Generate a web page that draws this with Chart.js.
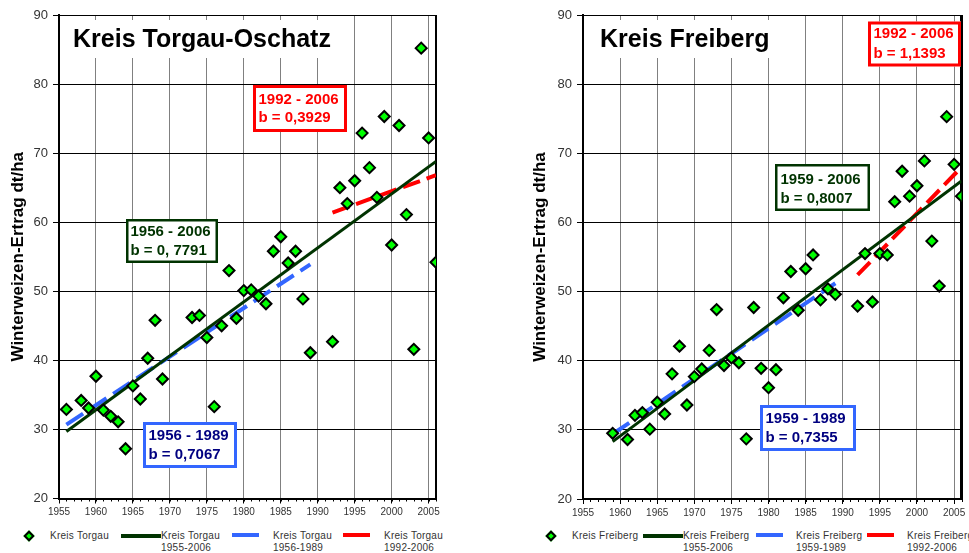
<!DOCTYPE html>
<html lang="de">
<head>
<meta charset="UTF-8">
<script src="https://cdn.jsdelivr.net/npm/chart.js"></script>
<title>Winterweizen-Ertrag</title>
<style>
  body { margin: 0; background: #fff; width: 969px; height: 553px; overflow: hidden; position: relative;
         font-family: "Liberation Sans", Arial, sans-serif; }
  .box { position: absolute; top: 0; height: 530px; }
  .lg { position: absolute; font-size: 10px; line-height: 12px; color: #333; white-space: nowrap; letter-spacing: 0.25px; }
  .ln { position: absolute; height: 4px; }
  .dm { position: absolute; width: 4px; height: 4px; border: 2px solid #000; background: #00ff00; transform: rotate(45deg); }
</style>
</head>
<body>

<div class="box" style="left:0; width:480px;"><canvas id="torgau"></canvas></div>
<div class="box" style="left:490px; width:479px;"><canvas id="freiberg"></canvas></div>

<!-- Legende links -->
<div class="dm" style="left:25px; top:532px;"></div>
<div class="lg" style="left:50px; top:530px;">Kreis Torgau</div>
<div class="ln" style="left:121px; top:534px; width:40px; background:#003300;"></div>
<div class="lg" style="left:161px; top:530px;">Kreis Torgau<br>1955-2006</div>
<div class="ln" style="left:232px; top:533px; width:27px; background:#3366ff;"></div>
<div class="lg" style="left:273px; top:530px;">Kreis Torgau<br>1956-1989</div>
<div class="ln" style="left:343px; top:533px; width:27px; background:#ff0000;"></div>
<div class="lg" style="left:384px; top:530px;">Kreis Torgau<br>1992-2006</div>

<!-- Legende rechts -->
<div class="dm" style="left:547px; top:532px;"></div>
<div class="lg" style="left:572px; top:530px;">Kreis Freiberg</div>
<div class="ln" style="left:643px; top:534px; width:40px; background:#003300;"></div>
<div class="lg" style="left:683px; top:530px;">Kreis Freiberg<br>1955-2006</div>
<div class="ln" style="left:756px; top:533px; width:27px; background:#3366ff;"></div>
<div class="lg" style="left:796px; top:530px;">Kreis Freiberg<br>1959-1989</div>
<div class="ln" style="left:867px; top:533px; width:27px; background:#ff0000;"></div>
<div class="lg" style="left:907px; top:530px;">Kreis Freiberg<br>1992-2006</div>

<script>
    // Kreis Torgau-Oschatz: Jahre und Ertrag (dt/ha)
    var torgauYears = [1956, 1958, 1959, 1960, 1961, 1962, 1963, 1964, 1965, 1966, 1967, 1968, 1969,
        1973, 1974, 1975, 1976, 1977, 1978, 1979, 1980, 1981, 1982, 1983, 1984, 1985, 1986, 1987, 1988, 1989,
        1992, 1993, 1994, 1995, 1996, 1997, 1998, 1999, 2000, 2001, 2002, 2003, 2004, 2005, 2006];
    var torgauYield = [32.9, 34.2, 33.1, 37.7, 32.8, 31.9, 31.1, 27.2, 36.3, 34.4, 40.3, 45.8, 37.3,
        46.2, 46.5, 43.3, 33.3, 45.0, 53.0, 46.1, 50.1, 50.2, 49.3, 48.2, 55.8, 57.9, 54.1, 55.8, 48.9, 41.1,
        42.7, 65.0, 62.7, 66.0, 72.9, 67.9, 63.6, 75.3, 56.7, 74.0, 61.1, 41.6, 85.2, 72.2, 54.2];
    // Trendlinien Torgau (Anfang, Ende)
    var torgauTrendAllX = [1956, 2006], torgauTrendAllY = [29.7, 68.8];
    var torgauTrendOldX = [1956, 1989], torgauTrendOldY = [30.7, 53.9];
    var torgauTrendNewX = [1992, 2006], torgauTrendNewY = [61.4, 66.8];

    // Kreis Freiberg
    var freibergYears = [1959, 1961, 1962, 1963, 1964, 1965, 1966, 1967, 1968, 1969, 1970, 1971, 1972,
        1973, 1974, 1975, 1976, 1977, 1978, 1979, 1980, 1981, 1982, 1983, 1984, 1985, 1986, 1987, 1988, 1989,
        1992, 1993, 1994, 1995, 1996, 1997, 1998, 1999, 2000, 2001, 2002, 2003, 2004, 2005, 2006];
    var freibergYield = [29.5, 28.6, 32.1, 32.5, 30.1, 34.0, 32.3, 38.1, 42.1, 33.6, 37.7, 38.8, 41.5,
        47.4, 39.3, 40.4, 39.7, 28.7, 47.7, 38.9, 36.1, 38.7, 49.1, 52.9, 47.3, 53.3, 55.3, 48.8, 50.4, 49.6,
        47.9, 55.5, 48.5, 55.5, 55.3, 63.0, 67.4, 63.8, 65.3, 68.9, 57.3, 50.8, 75.3, 68.4, 63.8];
    var freibergTrendAllX = [1959, 2006], freibergTrendAllY = [28.3, 66.0];
    var freibergTrendOldX = [1959, 1989], freibergTrendOldY = [29.4, 51.2];
    var freibergTrendNewX = [1992, 2006], freibergTrendNewY = [52.4, 68.0];

    var yTicks = [20, 30, 40, 50, 60, 70, 80, 90];
    var xTicks = [1955, 1960, 1965, 1970, 1975, 1980, 1985, 1990, 1995, 2000, 2005];

    var FONT = '"Liberation Sans", Arial, sans-serif';

    function pts(xs, ys) {
        return xs.map(function (x, i) { return {x: x, y: ys[i]}; });
    }

    // Rahmen, Jahres-Teilstriche und Textkästen
    var extras = {
        id: 'extras',
        beforeDatasetsDraw: function (chart, args, opts) {
            var ctx = chart.ctx, a = chart.chartArea, x = chart.scales.x;
            ctx.save();
            ctx.strokeStyle = '#000';
            ctx.lineWidth = 1;
            for (var yr = Math.ceil(x.min); yr <= x.max; yr++) {
                var px = Math.round(x.getPixelForValue(yr)) + 0.5;
                ctx.beginPath();
                ctx.moveTo(px, a.bottom);
                ctx.lineTo(px, a.bottom + 3);
                ctx.stroke();
            }
            ctx.lineWidth = opts.rightWidth;
            ctx.beginPath();
            ctx.moveTo(a.right, a.top);
            ctx.lineTo(a.right, a.bottom + 1);
            ctx.stroke();

            opts.boxes.forEach(function (b) {
                ctx.fillStyle = '#fff';
                ctx.fillRect(b.x, b.y, b.w, b.h);
                if (b.border) {
                    ctx.strokeStyle = b.border;
                    ctx.lineWidth = b.bw;
                    ctx.strokeRect(b.x + b.bw / 2, b.y + b.bw / 2, b.w - b.bw, b.h - b.bw);
                }
                ctx.fillStyle = b.color;
                ctx.font = b.font;
                ctx.textBaseline = 'middle';
                ctx.textAlign = 'left';
                b.lines.forEach(function (t, i) {
                    ctx.fillText(t, b.tx, b.ty[i]);
                });
            });
            ctx.restore();
        }
    };

    function drawChart(id, d) {
        var ctx = document.getElementById(id).getContext('2d');
        return new Chart(ctx, {
            type: 'scatter',
            data: {
                datasets: [{
                    label: d.name,
                    data: pts(d.years, d.values),
                    pointStyle: 'rectRot',
                    pointRadius: 5.5,
                    pointHoverRadius: 5.5,
                    backgroundColor: '#00ff00',
                    borderColor: '#000',
                    borderWidth: 2,
                    order: 0
                }, {
                    label: d.name + ' 1955-2006',
                    data: pts(d.allX, d.allY),
                    showLine: true,
                    pointRadius: 0,
                    borderColor: '#003300',
                    borderWidth: 3,
                    order: 1
                }, {
                    label: d.name + ' ' + d.oldLabel,
                    data: pts(d.oldX, d.oldY),
                    showLine: true,
                    pointRadius: 0,
                    borderColor: '#3366ff',
                    borderWidth: 4,
                    borderDash: [20, 8],
                    order: 2
                }, {
                    label: d.name + ' 1992-2006',
                    data: pts(d.newX, d.newY),
                    showLine: true,
                    pointRadius: 0,
                    borderColor: '#ff0000',
                    borderWidth: 4,
                    borderDash: [18, 7],
                    order: 1
                }]
            },
            options: {
                responsive: true,
                maintainAspectRatio: false,
                animation: false,
                events: [],
                layout: {padding: d.padding},
                plugins: {
                    legend: {display: false},
                    tooltip: {enabled: false},
                    extras: {rightWidth: d.rightWidth, boxes: d.boxes}
                },
                scales: {
                    x: {
                        type: 'linear',
                        min: 1955,
                        max: 2006,
                        afterBuildTicks: function (axis) {
                            axis.ticks = xTicks.map(function (v) { return {value: v}; });
                        },
                        afterFit: function (axis) { axis.height = d.xHeight; },
                        ticks: {
                            maxRotation: 0,
                            autoSkip: false,
                            padding: 3,
                            color: '#333',
                            font: {family: FONT, size: 10},
                            callback: function (v) { return String(v); }
                        },
                        grid: {color: '#808080', lineWidth: 1, tickLength: 5, tickColor: '#000'},
                        border: {color: '#000', width: 2}
                    },
                    y: {
                        min: 20,
                        max: 90,
                        afterBuildTicks: function (axis) {
                            axis.ticks = yTicks.map(function (v) { return {value: v}; });
                        },
                        afterFit: function (axis) { axis.width = d.yWidth; },
                        ticks: {
                            padding: 5,
                            color: '#333',
                            font: {family: FONT, size: 13}
                        },
                        grid: {color: '#000', lineWidth: 1, tickLength: 6, tickColor: '#000'},
                        border: {color: '#000', width: 2},
                        title: {
                            display: true,
                            text: 'Winterweizen-Ertrag dt/ha',
                            color: '#000',
                            padding: {top: 8, bottom: 0},
                            font: {family: FONT, size: 17, weight: 'bold'}
                        }
                    }
                }
            },
            plugins: [extras]
        });
    }

    var boldFont = 'bold 15px ' + FONT;
    var titleFont = 'bold 25px ' + FONT;

    drawChart('torgau', {
        name: 'Kreis Torgau',
        years: torgauYears, values: torgauYield,
        allX: torgauTrendAllX, allY: torgauTrendAllY,
        oldX: torgauTrendOldX, oldY: torgauTrendOldY, oldLabel: '1956-1989',
        newX: torgauTrendNewX, newY: torgauTrendNewY,
        padding: {left: 0, top: 15, right: 44, bottom: 0},
        yWidth: 59, xHeight: 31.5, rightWidth: 2,
        boxes: [
            {x: 65, y: 20, w: 276, h: 38, color: '#000', font: titleFont, lines: ['Kreis Torgau-Oschatz'], tx: 73, ty: [40]},
            {x: 253, y: 85, w: 94, h: 47, border: '#ff0000', bw: 3, color: '#ff0000', font: boldFont,
                lines: ['1992 - 2006', 'b = 0,3929'], tx: 258.5, ty: [100, 118]},
            {x: 126, y: 219, w: 92, h: 44, border: '#003300', bw: 2.5, color: '#003300', font: boldFont,
                lines: ['1956 - 2006', 'b = 0, 7791'], tx: 130.5, ty: [232, 251]},
            {x: 143, y: 422, w: 94, h: 46, border: '#3366ff', bw: 3, color: '#000080', font: boldFont,
                lines: ['1956 - 1989', 'b = 0,7067'], tx: 148.5, ty: [436, 455]}
        ]
    });

    drawChart('freiberg', {
        name: 'Kreis Freiberg',
        years: freibergYears, values: freibergYield,
        allX: freibergTrendAllX, allY: freibergTrendAllY,
        oldX: freibergTrendOldX, oldY: freibergTrendOldY, oldLabel: '1959-1989',
        newX: freibergTrendNewX, newY: freibergTrendNewY,
        padding: {left: 32, top: 15, right: 6, bottom: 0},
        yWidth: 61, xHeight: 31, rightWidth: 3,
        boxes: [
            {x: 100, y: 20, w: 186, h: 38, color: '#000', font: titleFont, lines: ['Kreis Freiberg'], tx: 110, ty: [40]},
            {x: 378, y: 21.5, w: 93, h: 45, border: '#ff0000', bw: 3, color: '#ff0000', font: boldFont,
                lines: ['1992 - 2006', 'b = 1,1393'], tx: 383.5, ty: [34, 54]},
            {x: 285, y: 164, w: 95, h: 47, border: '#003300', bw: 2.5, color: '#003300', font: boldFont,
                lines: ['1959 - 2006', 'b = 0,8007'], tx: 290.5, ty: [180, 199]},
            {x: 270, y: 405, w: 96, h: 46, border: '#3366ff', bw: 3, color: '#000080', font: boldFont,
                lines: ['1959 - 1989', 'b = 0,7355'], tx: 275.5, ty: [418.5, 437.5]}
        ]
    });
</script>

</body>
</html>
